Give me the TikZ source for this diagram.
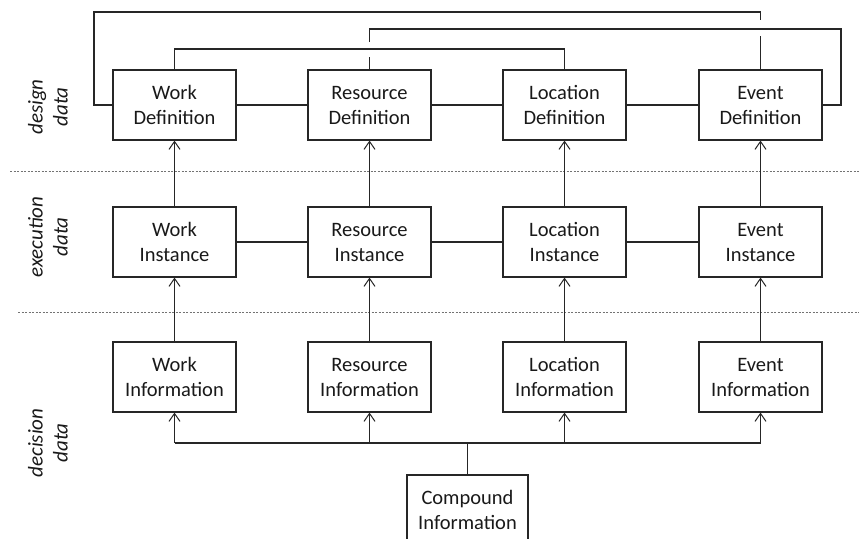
\documentclass[tikz,border=0pt]{standalone}
\usepackage{fontspec}
\setmainfont{Carlito}
\usetikzlibrary{arrows.meta}
\begin{document}
\begin{tikzpicture}[x=1pt,y=-1pt,
  box/.style={draw=black!85,line width=1.1pt,rectangle,minimum width=123pt,minimum height=70pt,
    align=center,font=\fontsize{20.5}{25}\selectfont,inner sep=0pt,text=black!90},
  link/.style={draw=black!85,line width=1.1pt},
  arr/.style={link,-{Straight Barb[length=8pt,width=11pt,line width=1pt]}},
  sep/.style={draw=black!55,line width=0.8pt,dash pattern=on 2pt off 1.5pt},
  side/.style={rotate=90,align=center,font=\fontsize{21}{25}\selectfont\itshape,text=black!90}]
\useasboundingbox (0,0) rectangle (859,538);

% layer separators
\draw[sep] (10,171) -- (859,171);
\draw[sep] (18,312) -- (859,312);

% layer captions
\node[side] (capdesign) at (48,107) {design\\data};
\node[side] (capexec) at (48,237) {execution\\data};
\node[side] (capdec) at (48,443) {decision\\data};

% design row
\node[box] (wd) at (174.5,105) {Work\\Definition};
\node[box] (rd) at (369.5,105) {Resource\\Definition};
\node[box] (ld) at (564.5,105) {Location\\Definition};
\node[box] (ed) at (760.5,105) {Event\\Definition};

% execution row
\node[box] (wi) at (174.5,242) {Work\\Instance};
\node[box] (ri) at (369.5,242) {Resource\\Instance};
\node[box] (li) at (564.5,242) {Location\\Instance};
\node[box] (ei) at (760.5,242) {Event\\Instance};

% decision row
\node[box] (wn) at (174.5,377) {Work\\Information};
\node[box] (rn) at (369.5,377) {Resource\\Information};
\node[box] (ln) at (564.5,377) {Location\\Information};
\node[box] (en) at (760.5,377) {Event\\Information};

\node[box,minimum width=121pt] (cn) at (467.5,510) {Compound\\Information};

% neighbours within a row
\draw[link] (wd) -- (rd);
\draw[link] (rd) -- (ld);
\draw[link] (ld) -- (ed);
\draw[link] (wi) -- (ri);
\draw[link] (ri) -- (li);
\draw[link] (li) -- (ei);

% long links over the design row (with line jumps)
\coordinate (jumpA) at (760.5,20);
\coordinate (jumpB) at (369.5,57);
\draw[link] (wd.west) -- (94,105) -- (94,12) -- (760.5,12) -- (jumpA);
\draw[link] (ed.north) -- (760.5,36);
\draw[link] (wd.north) -- (174.5,49) -- (564.5,49) -- (ld.north);
\draw[link] (rd.north) -- (jumpB);
\draw[link] (369.5,42) -- (369.5,29) -- (841,29) -- (841,105) -- (ed.east);

% upward dependencies
\draw[arr] (wi) -- (wd);
\draw[arr] (ri) -- (rd);
\draw[arr] (li) -- (ld);
\draw[arr] (ei) -- (ed);
\draw[arr] (wn) -- (wi);
\draw[arr] (rn) -- (ri);
\draw[arr] (ln) -- (li);
\draw[arr] (en) -- (ei);

% compound information bus
\coordinate (bus) at (467.5,443);
\draw[link] (cn.north) -- (bus);
\draw[link] (174.5,443) -- (760.5,443);
\draw[arr] (174.5,443) -- (wn.south);
\draw[arr] (369.5,443) -- (rn.south);
\draw[arr] (564.5,443) -- (ln.south);
\draw[arr] (760.5,443) -- (en.south);
\end{tikzpicture}
\end{document}
